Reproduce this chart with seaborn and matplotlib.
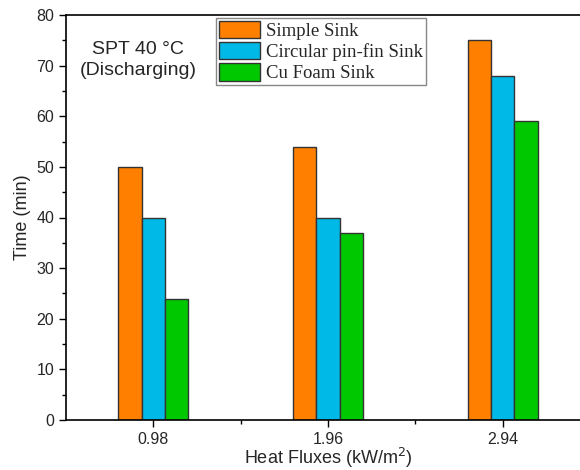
import matplotlib
matplotlib.use("Agg")
import matplotlib.pyplot as plt
import pandas as pd
import seaborn as sns
from matplotlib.ticker import MultipleLocator, FixedLocator

# data
heat_fluxes = ["0.98", "1.96", "2.94"]
sinks = ["Simple Sink", "Circular pin-fin Sink", "Cu Foam Sink"]
simple_sink = [50, 54, 75]
pinfin_sink = [40, 40, 68]
foam_sink = [24, 37, 59]
colors = ["#FF7F00", "#00B9E6", "#00C800"]

df = pd.DataFrame({
    "flux": heat_fluxes * 3,
    "sink": [s for s in sinks for _ in heat_fluxes],
    "time": simple_sink + pinfin_sink + foam_sink,
})

sns.set_style("ticks")
plt.rcParams["font.family"] = ["Liberation Sans", "DejaVu Sans"]

fig = plt.figure(figsize=(5.8, 4.7), dpi=100)
W, H = 580, 470
ax = fig.add_axes([66 / W, 1 - 420 / H, (590 - 66) / W, (420 - 15) / H])

sns.barplot(data=df, x="flux", y="time", hue="sink", hue_order=sinks,
            palette=colors, width=0.4, gap=0, edgecolor="#333333",
            linewidth=1.0, saturation=1, ax=ax)

ax.set_xlim(-0.5, 2.5)
ax.set_ylim(0, 80)
ax.yaxis.set_major_locator(MultipleLocator(10))
ax.yaxis.set_minor_locator(MultipleLocator(5))
ax.xaxis.set_minor_locator(FixedLocator([0.5, 1.5, 2.5]))
ax.tick_params(axis="both", which="major", direction="out", length=5,
               width=1, labelsize=11.5, color="black")
ax.tick_params(axis="both", which="minor", direction="out", length=3,
               width=1, color="black")
for sp in ax.spines.values():
    sp.set_visible(True)
    sp.set_linewidth(1.2)
    sp.set_color("black")

ax.set_xlabel("Heat Fluxes (kW/m$^2$)", fontsize=13, labelpad=-1)
ax.set_ylabel("Time (min)", fontsize=13, labelpad=4)

ax.text(0.137, 0.889, "SPT 40 °C\n(Discharging)", transform=ax.transAxes,
        ha="center", va="center", fontsize=14, linespacing=1.25)

ax.legend(loc="upper left", bbox_to_anchor=(0.286, 0.993),
          prop={"family": "Liberation Serif", "size": 13.5},
          frameon=True, fancybox=False, edgecolor="#888888",
          framealpha=1, borderpad=0.15, labelspacing=0.12,
          handlelength=2.2, handleheight=1.05, handletextpad=0.35,
          borderaxespad=0)

fig.savefig("out.png", dpi=100)
